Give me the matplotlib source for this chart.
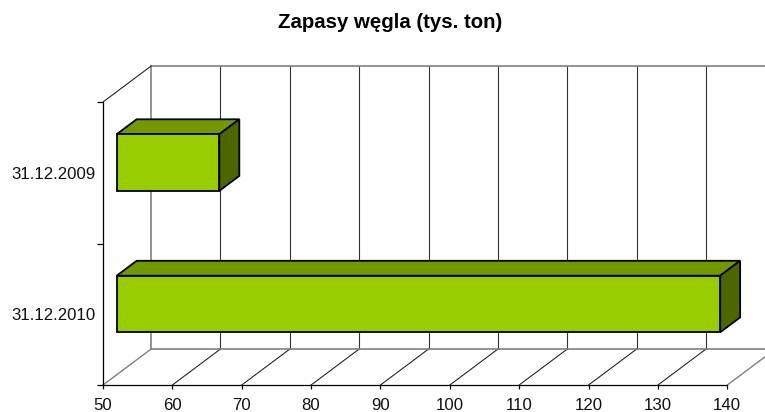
import numpy as np
import matplotlib
matplotlib.use('Agg')
import matplotlib.pyplot as plt
from matplotlib.patches import Polygon

plt.rcParams['font.family'] = ['Liberation Sans', 'DejaVu Sans']

# Data
categories = ['31.12.2010', '31.12.2009']
values = [137, 64.8]
x_ticks = [50, 60, 70, 80, 90, 100, 110, 120, 130, 140]
title = 'Zapasy węgla (tys. ton)'

# Fake 3D: depth is a shift in data units
W, H = 765, 412
depth_x = 6.93
depth_y = 0.254
bar_near = 0.285
bar_far = 0.70
bar_half = 0.2


def shift(x, y, d):
    return x + depth_x * d, y + depth_y * d


fig = plt.figure(figsize=(W / 100, H / 100), dpi=100)
ax = fig.add_axes([103 / W, 1 - 385 / H, 624.3 / W, 283 / H])
ax.set_xlim(50, 140)
ax.set_ylim(0, 2)

# Walls and floor
x_back, y_back = shift(np.array(x_ticks, dtype=float), 0, 1)
for i, t in enumerate(x_ticks):
    edge = i == 0 or i == len(x_ticks) - 1
    c = '#808080' if edge else '#1a1a1a'
    ax.plot([t, x_back[i]], [0, y_back], color=c, lw=1.0 if edge else 0.75, clip_on=False, zorder=1)
    ax.plot([x_back[i], x_back[i]], [y_back, 2 + depth_y],
            color='#808080' if i == 0 else '#333333', lw=1.2 if i == 0 else 0.8,
            clip_on=False, zorder=1)
ax.plot([x_back[0], x_back[-1]], [y_back, y_back], color='#808080', lw=1.2, clip_on=False, zorder=1)
ax.plot([x_back[0], x_back[-1]], [2 + depth_y, 2 + depth_y], color='#808080', lw=1.2, clip_on=False, zorder=1)
ax.plot([50, x_back[0]], [2, 2 + depth_y], color='#1a1a1a', lw=0.75, clip_on=False, zorder=1)

# Bars
for i, v in enumerate(values):
    c = i + 0.5
    x0, b0 = shift(50, c - bar_half, bar_near)
    x1, t0 = shift(v, c + bar_half, bar_near)
    dx = depth_x * (bar_far - bar_near)
    dy = depth_y * (bar_far - bar_near)
    front = [(x0, b0), (x1, b0), (x1, t0), (x0, t0)]
    top = [(x0, t0), (x1, t0), (x1 + dx, t0 + dy), (x0 + dx, t0 + dy)]
    side = [(x1, b0), (x1 + dx, b0 + dy), (x1 + dx, t0 + dy), (x1, t0)]
    for pts, col in [(top, '#739900'), (side, '#4d6600'), (front, '#99cc00')]:
        ax.add_patch(Polygon(pts, closed=True, facecolor=col, edgecolor='black',
                             lw=1.3, joinstyle='miter', clip_on=False, zorder=3))

# Axes
for s in ['top', 'right']:
    ax.spines[s].set_visible(False)
for s in ['left', 'bottom']:
    ax.spines[s].set_linewidth(0.9)
ax.patch.set_visible(False)
ax.set_xticks(x_ticks)
ax.set_yticks([0, 1, 2])
ax.set_yticklabels([])
ax.set_yticks([0.5, 1.5], minor=True)
ax.set_yticklabels(categories, minor=True)
ax.tick_params(axis='y', which='minor', length=0, pad=5.5, labelsize=12.1, labelcolor='#111111')
ax.tick_params(axis='y', which='major', length=4, width=0.9)
ax.tick_params(axis='x', length=3, width=0.9, pad=6, labelsize=12.1, labelcolor='#111111')

fig.text(390.5 / W, 1 - 22 / H, title, ha='center', va='center', fontsize=14.7, fontweight='bold')

fig.savefig('out.png', dpi=100)
